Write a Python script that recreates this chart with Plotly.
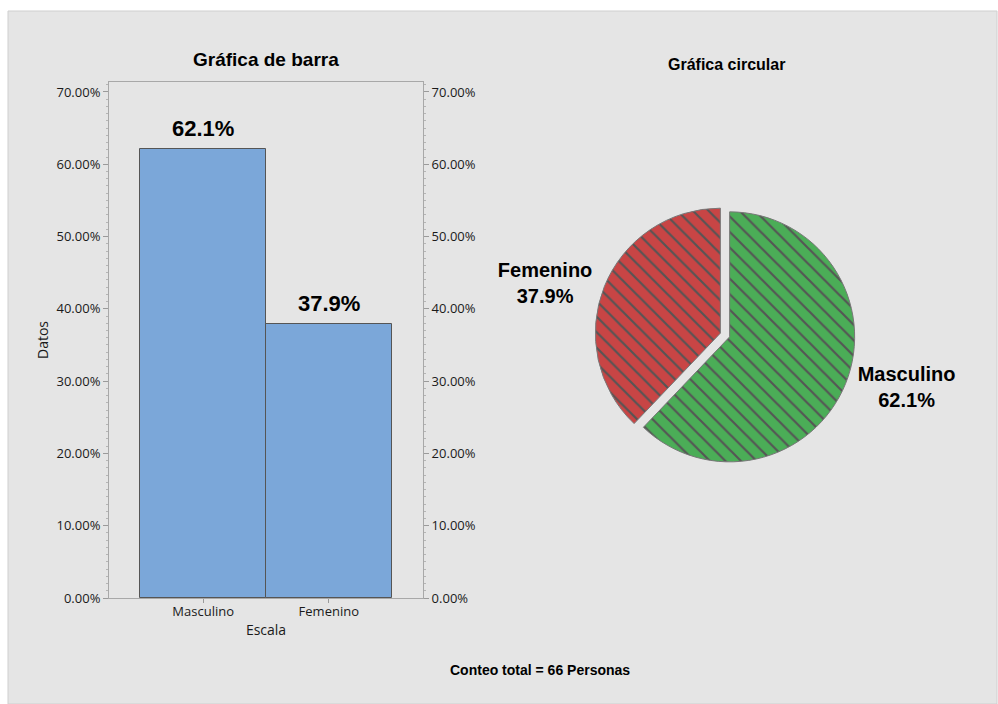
import plotly.graph_objects as go

# ---- data ----
categories = ["Masculino", "Femenino"]
counts = [41, 25]
total = sum(counts)
shares = [c / total for c in counts]
y_ticks = [0.0, 0.1, 0.2, 0.3, 0.4, 0.5, 0.6, 0.7]
bar_title = "Gráfica de barra"
pie_title = "Gráfica circular"
footer = "Conteo total = 66 Personas"

W, H = 998, 704
def px_x(p): return p / W
def px_y(p): return (H - p) / H

BAR_FONT = "Liberation Sans, Arial, sans-serif"
TICK_FONT = "Open Sans, Noto Sans, sans-serif"
pie_colors = ["#4bad57", "#c84545"]

fig = go.Figure()

fig.add_trace(go.Bar(
    x=categories, y=shares, width=1.0,
    marker=dict(color="#7ba7d9", line=dict(color="#555555", width=1)),
    showlegend=False, hoverinfo="skip",
))
# invisible trace carrying the mirrored right-hand axis
fig.add_trace(go.Scatter(
    x=categories, y=shares, yaxis="y2", mode="markers",
    marker=dict(size=1, opacity=0), showlegend=False, hoverinfo="skip",
))

fig.add_trace(go.Pie(
    labels=categories, values=counts, sort=False, direction="clockwise",
    rotation=0, pull=[0.04, 0.04],
    marker=dict(colors=pie_colors,
                line=dict(color="#777777", width=1),
                pattern=dict(shape="\\", fgcolor="#555555", bgcolor=pie_colors,
                             size=11, solidity=0.2, fillmode="replace")),
    texttemplate="<b>%{label}<br>%{percent:.1%}</b>", textposition="outside",
    textfont=dict(family=BAR_FONT, size=20, color="black"),
    domain=dict(x=[px_x(595), px_x(855)], y=[px_y(465), px_y(205)]),
    showlegend=False, hoverinfo="skip", automargin=False,
))

axis_common = dict(
    range=[0, 0.7138], tickvals=y_ticks, tickformat=".2%",
    ticks="outside", ticklen=5, tickcolor="#9a9a9a", showgrid=False,
    showline=True, linecolor="#a8a8a8", linewidth=1, zeroline=False,
    tickfont=dict(family=TICK_FONT, size=13, color="#1a1a1a"),
    minor=dict(dtick=0.01, ticks="outside", ticklen=2, tickcolor="#b5b5b5"),
    automargin=False,
)

annotations = [
    dict(text=bar_title, x=px_x(266), y=px_y(59), xref="paper", yref="paper",
         xanchor="center", yanchor="middle", showarrow=False,
         font=dict(family=BAR_FONT, size=19, color="black", weight="bold")),
    dict(text=pie_title, x=px_x(726), y=px_y(64), xref="paper", yref="paper",
         xanchor="center", yanchor="middle", showarrow=False,
         font=dict(family=BAR_FONT, size=16, color="black", weight="bold")),
    dict(text=footer, x=px_x(540), y=px_y(670), xref="paper", yref="paper",
         xanchor="center", yanchor="middle", showarrow=False,
         font=dict(family=BAR_FONT, size=14, color="black", weight="bold")),
]
for cat, s in zip(categories, shares):
    annotations.append(dict(
        text=f"{s*100:.1f}%", x=cat, y=s, xref="x", yref="y",
        xanchor="center", yanchor="bottom", yshift=6, showarrow=False,
        font=dict(family=BAR_FONT, size=22, color="black", weight="bold")))

fig.update_layout(
    width=W, height=H, margin=dict(l=0, r=0, t=0, b=0, autoexpand=False),
    paper_bgcolor="white", plot_bgcolor="white",
    bargap=0,
    xaxis=dict(domain=[px_x(109), px_x(423)], range=[-0.75, 1.75],
               showline=True, linecolor="#a8a8a8", mirror=True,
               ticks="outside", ticklen=4, tickcolor="#9a9a9a",
               tickfont=dict(family=TICK_FONT, size=13, color="#1a1a1a"),
               ticklabelstandoff=-3,
               automargin=False,
               title=dict(text="Escala", standoff=6,
                          font=dict(family=TICK_FONT, size=14, color="#1a1a1a"))),
    yaxis=dict(domain=[px_y(598), px_y(82)], side="left",
               title=dict(text="Datos", standoff=4,
                          font=dict(family=TICK_FONT, size=14, color="#1a1a1a")),
               **axis_common),
    yaxis2=dict(overlaying="y", side="right", **axis_common),
    shapes=[dict(type="rect", xref="paper", yref="paper",
                 x0=px_x(8), x1=px_x(997), y0=px_y(704), y1=px_y(11),
                 fillcolor="#e5e5e5", line=dict(color="#cfcfcf", width=1),
                 layer="below")],
    annotations=annotations,
)

fig.write_html("out.html")
